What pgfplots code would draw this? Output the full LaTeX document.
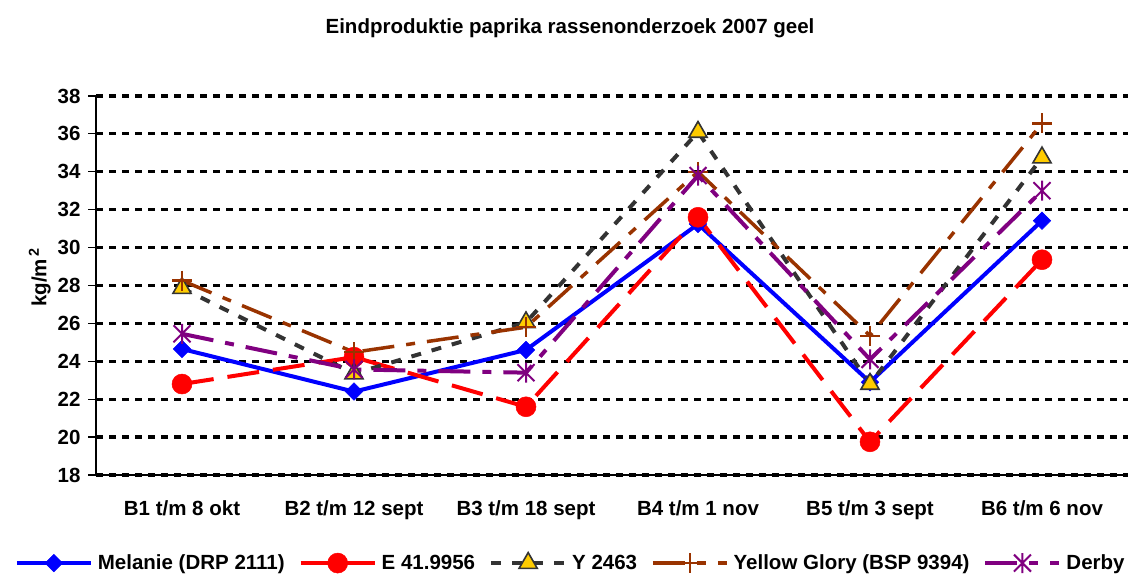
\documentclass[border=0pt]{standalone}
\usepackage{fontspec}
\setmainfont{Liberation Sans}
\usepackage{pgfplots}
\usepackage{pgfplotstable}
\pgfplotsset{compat=1.18}
\definecolor{cblue}{HTML}{0000FF}
\definecolor{cred}{HTML}{FF0000}
\definecolor{cgray}{HTML}{333333}
\definecolor{cyel}{HTML}{FFCC00}
\definecolor{cbrown}{HTML}{993300}
\definecolor{cpurple}{HTML}{800080}
\pgfdeclareplotmark{xstar}{%
  \pgfpathmoveto{\pgfqpoint{0pt}{\pgfplotmarksize}}%
  \pgfpathlineto{\pgfqpoint{0pt}{-\pgfplotmarksize}}%
  \pgfpathmoveto{\pgfqpoint{-.85\pgfplotmarksize}{-.85\pgfplotmarksize}}%
  \pgfpathlineto{\pgfqpoint{.85\pgfplotmarksize}{.85\pgfplotmarksize}}%
  \pgfpathmoveto{\pgfqpoint{-.85\pgfplotmarksize}{.85\pgfplotmarksize}}%
  \pgfpathlineto{\pgfqpoint{.85\pgfplotmarksize}{-.85\pgfplotmarksize}}%
  \pgfusepathqstroke}
\pgfplotstableread{
x  mel    e      y      yg     der
1  24.65  22.80  27.86  28.26  25.45
2  22.40  24.22  23.35  24.48  23.57
3  24.60  21.60  26.05  25.80  23.40
4  31.24  31.60  36.10  34.00  33.80
5  22.90  19.75  22.80  25.35  24.10
6  31.42  29.36  34.75  36.55  33.00
}\data
\newcommand{\fs}{\fontsize{20.5}{24}\selectfont\bfseries}
\begin{document}
\begin{tikzpicture}
\useasboundingbox (0pt,0pt) rectangle (1131pt,577pt);
\begin{axis}[
  at={(96pt,102pt)}, anchor=south west,
  scale only axis, width=1032pt, height=379pt,
  xmin=0.5, xmax=6.5, ymin=18, ymax=38,
  axis x line=bottom, axis y line=left,
  axis line style={-, black, line width=1.2pt},
  tick align=outside,
  xtick={1,...,6},
  xticklabels={B1 t/m 8 okt, B2 t/m 12 sept, B3 t/m 18 sept, B4 t/m 1 nov, B5 t/m 3 sept, B6 t/m 6 nov},
  xtick style={draw=none},
  minor xtick={0.5,1.5,...,6.5},
  minor x tick style={black, line width=1.2pt},
  minor tick length=8pt,
  ytick={20,22,...,36},
  extra y ticks={18,38},
  extra y tick style={grid style={black, line width=1.2pt, dash pattern=on 7pt off 6pt}},
  ytick style={black, line width=1.2pt},
  major tick length=8pt,
  ymajorgrids,
  major grid style={black, line width=3.2pt, dash pattern=on 7pt off 6pt},
  /pgf/number format/assume math mode=true,
  ticklabel style={font=\fs},
  xticklabel style={yshift=-14pt},
  yticklabel style={xshift=-4pt},
  ylabel={kg/m\textsuperscript{\,2}},
  ylabel style={font=\fs, yshift=-16pt, xshift=8pt},
  legend columns=5,
  legend style={draw=none, font=\fs, at={(0.46,-0.232)}, anchor=center,
    /tikz/every even column/.append style={column sep=12pt},
    /tikz/every odd column/.append style={column sep=3pt}},
  legend image code/.code={\draw[mark repeat=2,mark phase=2] plot coordinates {(0pt,0pt) (37pt,0pt) (74pt,0pt)};},
  clip=false,
]
\addplot[cblue, line width=4pt, mark=square*, mark size=6.2pt, mark options={solid, rotate=45, fill=cblue, draw=cblue, line width=0.5pt}]
  table[x=x,y=mel] {\data};
\addlegendentry{Melanie (DRP 2111)}
\addplot[cred, line width=4pt, dash pattern=on 32pt off 14pt, mark=*, mark size=10pt, mark options={solid, fill=cred, draw=cred, line width=0.5pt}]
  table[x=x,y=e] {\data};
\addlegendentry{E 41.9956}
\addplot[cgray, line width=4pt, dash pattern=on 10pt off 11pt, mark=triangle*, mark size=10.5pt, mark options={solid, fill=cyel, draw=cgray, line width=1.6pt}]
  table[x=x,y=y] {\data};
\addlegendentry{Y 2463}
\addplot[cbrown, line width=3.5pt, dash pattern=on 32pt off 12pt on 9pt off 12pt, mark=+, mark size=10pt, mark options={solid, draw=cbrown, line width=2.2pt}]
  table[x=x,y=yg] {\data};
\addlegendentry{Yellow Glory (BSP 9394)}
\addplot[cpurple, line width=4pt, dash pattern=on 32pt off 12pt on 9pt off 12pt, mark=xstar, mark size=10pt, mark options={solid, draw=cpurple, line width=2pt}]
  table[x=x,y=der] {\data};
\addlegendentry{Derby}
\end{axis}
\node[font=\fs] at (570pt,549pt) {Eindproduktie paprika rassenonderzoek 2007 geel};
\end{tikzpicture}
\end{document}
